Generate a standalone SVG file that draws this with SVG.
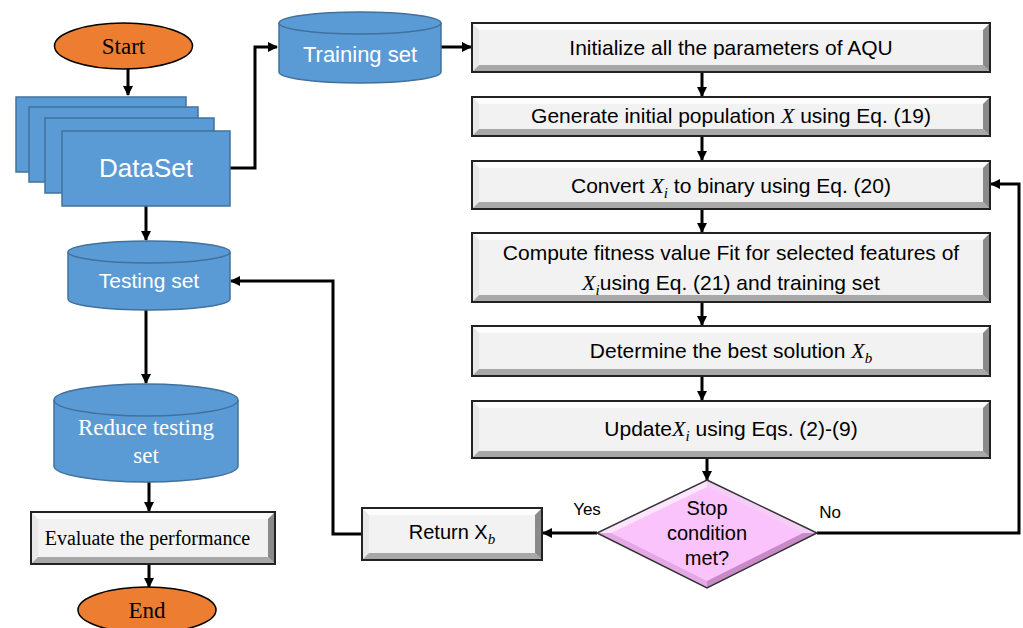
<svg xmlns="http://www.w3.org/2000/svg" width="1023" height="628" viewBox="0 0 1023 628">
<defs>
<marker id="ah" markerUnits="userSpaceOnUse" markerWidth="10" markerHeight="10" refX="9" refY="5" orient="auto">
<path d="M0,0 L10,5 L0,10 Z" fill="#000"/>
</marker>
<style>
.sans{font-family:"Liberation Sans",Arial,sans-serif;}
.serif{font-family:"Liberation Serif","Times New Roman",serif;}
.m{font-family:"Liberation Serif","Times New Roman",serif;font-style:italic;}
.blue{fill:#5b9bd5;stroke:#41719c;stroke-width:1.5;}
.oval{fill:#ed7d31;stroke:#000;stroke-width:1.5;}
.face{fill:#f2f2f2;}
.bt{fill:#fdfdfd;}
.bl{fill:#e8e8e8;}
.bb{fill:#a8a8a8;}
.br{fill:#8a8a8a;}
.edge{fill:none;stroke:#222;stroke-width:2;}
.conn{fill:none;stroke:#000;stroke-width:3;}
.wt{fill:#fff;}
.bk{fill:#000;}
</style>
</defs>
<rect width="1023" height="628" fill="#fff"/>

<g id="conns">
<path class="conn" d="M128,69 V95" marker-end="url(#ah)"/>
<path class="conn" d="M230,168 H255 V47 H277" marker-end="url(#ah)"/>
<path class="conn" d="M441,47 H471" marker-end="url(#ah)"/>
<path class="conn" d="M702,72 V96" marker-end="url(#ah)"/>
<path class="conn" d="M702,136 V160" marker-end="url(#ah)"/>
<path class="conn" d="M702,209 V232" marker-end="url(#ah)"/>
<path class="conn" d="M702,302 V325" marker-end="url(#ah)"/>
<path class="conn" d="M702,376 V400" marker-end="url(#ah)"/>
<path class="conn" d="M707,458 V480" marker-end="url(#ah)"/>
<path class="conn" d="M597,533 H543" marker-end="url(#ah)"/>
<path class="conn" d="M817,533 H1019 V184 H991" marker-end="url(#ah)"/>
<path class="conn" d="M362,534 H333 V281 H231" marker-end="url(#ah)"/>
<path class="conn" d="M146,206 V240" marker-end="url(#ah)"/>
<path class="conn" d="M146,310 V383" marker-end="url(#ah)"/>
<path class="conn" d="M149,482 V511" marker-end="url(#ah)"/>
<path class="conn" d="M149,564 V587" marker-end="url(#ah)"/>
<text class="sans bk" x="587" y="515" font-size="17" text-anchor="middle">Yes</text>
<text class="sans bk" x="830" y="518" font-size="17" text-anchor="middle">No</text>
</g>

<g id="start">
<ellipse class="oval" cx="123.5" cy="46" rx="69" ry="23"/>
<text class="serif bk" x="123.5" y="54" font-size="23" text-anchor="middle">Start</text>
</g>

<g id="dataset">
<rect class="blue" x="16" y="97" width="170" height="75"/>
<rect class="blue" x="29" y="107" width="169" height="75"/>
<rect class="blue" x="45" y="118" width="169" height="75"/>
<rect class="blue" x="62" y="131" width="168" height="75"/>
<text class="sans wt" x="146" y="177" font-size="26" text-anchor="middle">DataSet</text>
</g>

<g id="training">
<path class="blue" d="M279,23 V72 A81,11 0 0 0 441,72 V23"/>
<ellipse class="blue" cx="360" cy="23" rx="81" ry="11"/>
<text class="sans wt" x="360" y="62" font-size="22" text-anchor="middle">Training set</text>
</g>

<g id="testing">
<path class="blue" d="M68,252 V299 A81,11 0 0 0 230,299 V252"/>
<ellipse class="blue" cx="149" cy="252" rx="81" ry="11"/>
<text class="sans wt" x="149" y="288" font-size="21" text-anchor="middle">Testing set</text>
</g>

<g id="reduce">
<path class="blue" d="M54,400 V466 A92,16 0 0 0 238,466 V400"/>
<ellipse class="blue" cx="146" cy="400" rx="92" ry="16"/>
<text class="serif wt" x="146" y="435" font-size="23" text-anchor="middle">Reduce testing</text>
<text class="serif wt" x="146" y="463" font-size="23" text-anchor="middle">set</text>
</g>

<g id="evaluate">
<rect class="face" x="31" y="512" width="244" height="52"/>
<polygon class="bt" points="31,512 275,512 268,519 38,519"/>
<polygon class="bl" points="31,512 38,519 38,557 31,564"/>
<polygon class="bb" points="31,564 38,557 268,557 275,564"/>
<polygon class="br" points="275,512 275,564 268,557 268,519"/>
<rect class="edge" x="31" y="512" width="244" height="52"/>
<text class="serif bk" x="147.5" y="545" font-size="20" text-anchor="middle">Evaluate the performance</text>
</g>

<g id="end">
<ellipse class="oval" cx="147" cy="610" rx="69" ry="23"/>
<text class="serif bk" x="147" y="618" font-size="23" text-anchor="middle">End</text>
</g>

<g id="init">
<rect class="face" x="472" y="23" width="518" height="49"/>
<polygon class="bt" points="472,23 990,23 983,30 479,30"/>
<polygon class="bl" points="472,23 479,30 479,65 472,72"/>
<polygon class="bb" points="472,72 479,65 983,65 990,72"/>
<polygon class="br" points="990,23 990,72 983,65 983,30"/>
<rect class="edge" x="472" y="23" width="518" height="49"/>
<text class="sans bk" x="731" y="55" font-size="21" text-anchor="middle">Initialize all the parameters of AQU</text>
</g>

<g id="generate">
<rect class="face" x="472" y="97" width="518" height="39"/>
<polygon class="bt" points="472,97 990,97 983,104 479,104"/>
<polygon class="bl" points="472,97 479,104 479,129 472,136"/>
<polygon class="bb" points="472,136 479,129 983,129 990,136"/>
<polygon class="br" points="990,97 990,136 983,129 983,104"/>
<rect class="edge" x="472" y="97" width="518" height="39"/>
<text class="sans bk" x="731" y="123" font-size="21" text-anchor="middle">Generate initial population <tspan class="m" font-size="22">X</tspan> using Eq. (19)</text>
</g>

<g id="convert">
<rect class="face" x="472" y="161" width="518" height="48"/>
<polygon class="bt" points="472,161 990,161 983,168 479,168"/>
<polygon class="bl" points="472,161 479,168 479,202 472,209"/>
<polygon class="bb" points="472,209 479,202 983,202 990,209"/>
<polygon class="br" points="990,161 990,209 983,202 983,168"/>
<rect class="edge" x="472" y="161" width="518" height="48"/>
<text class="sans bk" x="731" y="193" font-size="21" text-anchor="middle">Convert <tspan class="m" font-size="22">X</tspan><tspan class="m" font-size="15" dy="5">i</tspan><tspan dy="-5"> to binary using Eq. (20)</tspan></text>
</g>

<g id="fitness">
<rect class="face" x="472" y="233" width="518" height="69"/>
<polygon class="bt" points="472,233 990,233 983,240 479,240"/>
<polygon class="bl" points="472,233 479,240 479,295 472,302"/>
<polygon class="bb" points="472,302 479,295 983,295 990,302"/>
<polygon class="br" points="990,233 990,302 983,295 983,240"/>
<rect class="edge" x="472" y="233" width="518" height="69"/>
<text class="sans bk" x="731" y="260" font-size="21" text-anchor="middle">Compute fitness value Fit for selected features of</text>
<text class="sans bk" x="731" y="290" font-size="21" text-anchor="middle"><tspan class="m" font-size="22">X</tspan><tspan class="m" font-size="15" dy="5">i</tspan><tspan dy="-5">using Eq. (21) and training set</tspan></text>
</g>

<g id="best">
<rect class="face" x="472" y="326" width="518" height="50"/>
<polygon class="bt" points="472,326 990,326 983,333 479,333"/>
<polygon class="bl" points="472,326 479,333 479,369 472,376"/>
<polygon class="bb" points="472,376 479,369 983,369 990,376"/>
<polygon class="br" points="990,326 990,376 983,369 983,333"/>
<rect class="edge" x="472" y="326" width="518" height="50"/>
<text class="sans bk" x="731" y="358" font-size="21" text-anchor="middle">Determine the best solution <tspan class="m" font-size="22">X</tspan><tspan class="m" font-size="15" dy="5">b</tspan></text>
</g>

<g id="update">
<rect class="face" x="472" y="401" width="518" height="57"/>
<polygon class="bt" points="472,401 990,401 983,408 479,408"/>
<polygon class="bl" points="472,401 479,408 479,451 472,458"/>
<polygon class="bb" points="472,458 479,451 983,451 990,458"/>
<polygon class="br" points="990,401 990,458 983,451 983,408"/>
<rect class="edge" x="472" y="401" width="518" height="57"/>
<text class="sans bk" x="731" y="436" font-size="21" text-anchor="middle">Update<tspan class="m" font-size="22">X</tspan><tspan class="m" font-size="15" dy="5">i</tspan><tspan dy="-5"> using Eqs. (2)-(9)</tspan></text>
</g>

<g id="stop">
<polygon points="707,480 817,533 707,588 597,533" fill="#fbc3fb"/>
<polygon points="707,480 597,533 611,533 707,487" fill="#fde6fd"/>
<polygon points="707,480 817,533 803,533 707,487" fill="#f6cdf6"/>
<polygon points="597,533 707,588 707,581 611,533" fill="#e4a8e4"/>
<polygon points="817,533 707,588 707,581 803,533" fill="#c98ac9"/>
<polygon points="707,480 817,533 707,588 597,533" fill="none" stroke="#333" stroke-width="1.5"/>
<text class="sans bk" x="707" y="515" font-size="20" text-anchor="middle">Stop</text>
<text class="sans bk" x="707" y="540" font-size="20" text-anchor="middle">condition</text>
<text class="sans bk" x="707" y="565" font-size="20" text-anchor="middle">met?</text>
</g>

<g id="return">
<rect class="face" x="362" y="508" width="180" height="52"/>
<polygon class="bt" points="362,508 542,508 535,515 369,515"/>
<polygon class="bl" points="362,508 369,515 369,553 362,560"/>
<polygon class="bb" points="362,560 369,553 535,553 542,560"/>
<polygon class="br" points="542,508 542,560 535,553 535,515"/>
<rect class="edge" x="362" y="508" width="180" height="52"/>
<text class="sans bk" x="452" y="539" font-size="20" text-anchor="middle">Return X<tspan class="m" font-size="15" dy="5">b</tspan></text>
</g>
</svg>
